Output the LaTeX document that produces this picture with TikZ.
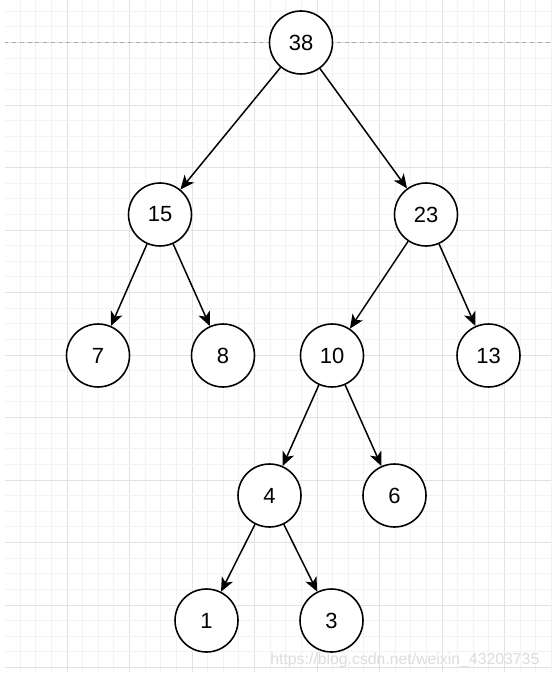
\documentclass[tikz,border=0pt]{standalone}
\usepackage{fontspec}
\setmainfont{Liberation Sans}
\usepackage{xcolor}
\definecolor{gridminor}{RGB}{243,243,243}
\definecolor{gridmajor}{RGB}{226,226,226}
\definecolor{pageline}{RGB}{170,170,170}
\definecolor{wmgray}{RGB}{220,220,220}
\usetikzlibrary{arrows.meta}

\tikzset{
  treenode/.style={draw,circle,line width=0.9pt,fill=white,inner sep=0pt,minimum size=1.26cm,font=\fontsize{12.5}{14}\selectfont},
  treeedge/.style={line width=0.85pt,-{Stealth[length=8pt,width=7pt,inset=2.2pt]}}
}

\begin{document}
\begin{tikzpicture}[x=0.02cm,y=-0.02cm]
  \useasboundingbox (0,0) rectangle (551,678);
  % background grid
  \foreach \k in {1,...,35} {
    \pgfmathtruncatemacro{\m}{mod(\k,4)}
    \ifnum\m=0 \def\gc{gridmajor}\else\def\gc{gridminor}\fi
    \draw[\gc,line width=0.55pt] ({4.5+15.625*\k},0) -- ({4.5+15.625*\k},672);
  }
  \foreach \k in {-2,...,40} {
    \pgfmathtruncatemacro{\m}{mod(\k+40,4)}
    \ifnum\m=0 \def\gc{gridmajor}\else\def\gc{gridminor}\fi
    \draw[\gc,line width=0.55pt] (4.5,{42.5+15.625*\k}) -- (551,{42.5+15.625*\k});
  }
  \draw[pageline,dashed,dash pattern=on 2.2pt off 2.2pt,line width=0.55pt] (4.5,42.5) -- (551,42.5);

  % tree
  \node[treenode] (n38) at (301,42.5) {38};
  \node[treenode] (n15) at (160,214.5) {15};
  \node[treenode] (n23) at (426,214.5) {23};
  \node[treenode] (n7) at (98,355.5) {7};
  \node[treenode] (n8) at (223,355.5) {8};
  \node[treenode] (n10) at (332,355.5) {10};
  \node[treenode] (n13) at (488.5,355.5) {13};
  \node[treenode] (n4) at (269.5,495.5) {4};
  \node[treenode] (n6) at (394.5,495.5) {6};
  \node[treenode] (n1) at (206.5,620.5) {1};
  \node[treenode] (n3) at (331.5,620.5) {3};

  \draw[treeedge] (n38) -- (n15);
  \draw[treeedge] (n38) -- (n23);
  \draw[treeedge] (n15) -- (n7);
  \draw[treeedge] (n15) -- (n8);
  \draw[treeedge] (n23) -- (n10);
  \draw[treeedge] (n23) -- (n13);
  \draw[treeedge] (n10) -- (n4);
  \draw[treeedge] (n10) -- (n6);
  \draw[treeedge] (n4) -- (n1);
  \draw[treeedge] (n4) -- (n3);

  \node[wmgray,anchor=base west,inner sep=0pt,font=\fontsize{9}{10}\selectfont] (wm) at (270,664) {https://blog.csdn.net/weixin\_43203735};
\end{tikzpicture}
\end{document}
